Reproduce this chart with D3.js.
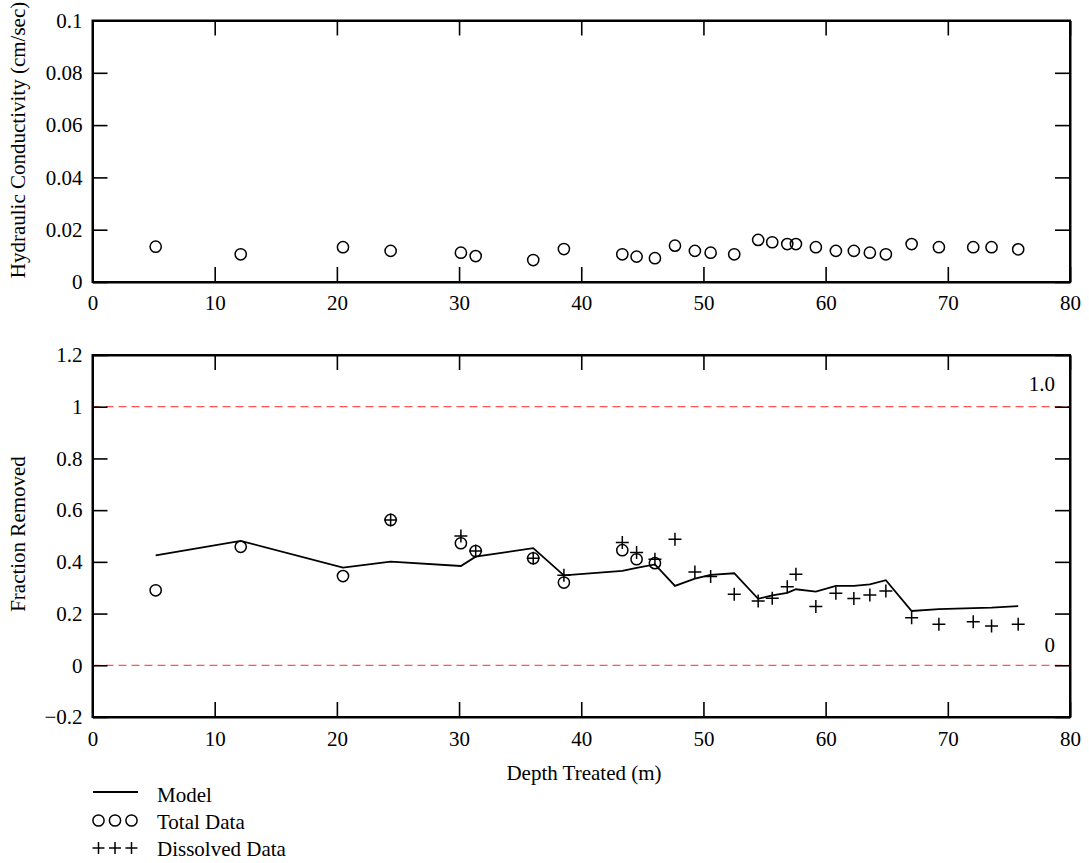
<!DOCTYPE html>
<html>
<head>
<meta charset="utf-8">
<script src="https://cdn.jsdelivr.net/npm/d3@7"></script>
<style>
  html, body { margin: 0; padding: 0; background: #fff; }
  svg { display: block; }
  text { font-family: "Liberation Serif", "Times New Roman", serif; fill: #000; }
</style>
</head>
<body>
<svg id="chart" width="1089" height="863"></svg>
<script>
// ---------- data ----------
const depth = [5.17, 12.13, 20.5, 24.4, 30.15, 31.36, 36.07, 38.58, 43.36, 44.53, 46.03,
  47.67, 49.3, 50.59, 52.52, 54.48, 55.63, 56.86, 57.57, 59.2, 60.84, 62.31, 63.62,
  64.93, 67.04, 69.27, 72.08, 73.58, 75.76];
const conductivity = [0.0135, 0.0106, 0.0133, 0.0119, 0.0112, 0.0099, 0.0084, 0.0126, 0.0106, 0.0097, 0.0091,
  0.0139, 0.0119, 0.0112, 0.0106, 0.0161, 0.0152, 0.0145, 0.0145, 0.0133, 0.0119, 0.0119, 0.0112,
  0.0106, 0.0145, 0.0133, 0.0133, 0.0133, 0.0125];
const model = [0.425, 0.481, 0.378, 0.401, 0.384, 0.42, 0.453, 0.348, 0.365, 0.377, 0.39,
  0.307, 0.335, 0.35, 0.356, 0.257, 0.27, 0.28, 0.294, 0.285, 0.307, 0.307, 0.313,
  0.329, 0.21, 0.217, 0.221, 0.223, 0.229];
const totalData = [0.29, 0.458, 0.345, 0.562, 0.472, 0.442, 0.414, 0.32, 0.445, 0.41, 0.395,
  null, null, null, null, null, null, null, null, null, null, null, null,
  null, null, null, null, null, null];
const dissolvedData = [null, null, null, 0.562, 0.50, 0.442, 0.414, 0.348, 0.475, 0.436, 0.41,
  0.487, 0.361, 0.343, 0.275, 0.249, 0.259, 0.304, 0.352, 0.227, 0.279, 0.258, 0.272,
  0.287, 0.184, 0.159, 0.168, 0.152, 0.159];
const xTicks = [0, 10, 20, 30, 40, 50, 60, 70, 80];
const kTicks = [0, 0.02, 0.04, 0.06, 0.08, 0.1];
const fTicks = [-0.2, 0, 0.2, 0.4, 0.6, 0.8, 1, 1.2];
const refLines = [1, 0];
const refLabels = ["1.0", "0"];
const legendLabels = ["Model", "Total Data", "Dissolved Data"];
const xTitle = "Depth Treated (m)";
const kTitle = "Hydraulic Conductivity (cm/sec)";
const fTitle = "Fraction Removed";

// ---------- layout ----------
const svg = d3.select("#chart");
const FS = 21;
const left = 92.5, right = 1070;
const x = d3.scaleLinear().domain([0, 80]).range([left, right]);
const yK = d3.scaleLinear().domain([0, 0.1]).range([282, 20.5]);
const yF = d3.scaleLinear().domain([-0.2, 1.2]).range([717, 355]);

const fmt = d => {
  const s = String(+d.toFixed(2));
  return s.startsWith("-") ? "\u2212" + s.slice(1) : s;
};

function frame(y, yTicks, padX) {
  const [y0, y1] = y.range();
  const g = svg.append("g");
  // bottom axis
  g.append("g").attr("transform", `translate(0,${y0})`)
    .call(d3.axisBottom(x).tickValues(xTicks).tickSize(-15).tickSizeOuter(0).tickPadding(padX).tickFormat(d3.format("d")));
  // top axis
  g.append("g").attr("transform", `translate(0,${y1})`)
    .call(d3.axisTop(x).tickValues(xTicks).tickSize(-15).tickSizeOuter(0).tickFormat(""));
  // left axis
  g.append("g").attr("transform", `translate(${left},0)`)
    .call(d3.axisLeft(y).tickValues(yTicks).tickSize(-15).tickSizeOuter(0).tickPadding(10).tickFormat(fmt));
  // right axis
  g.append("g").attr("transform", `translate(${right},0)`)
    .call(d3.axisRight(y).tickValues(yTicks).tickSize(-15).tickSizeOuter(0).tickFormat(""));
  g.selectAll(".tick line").attr("stroke", "#000").attr("stroke-width", 1.6);
  g.selectAll(".domain").attr("stroke", "#000").attr("stroke-width", 2);
  g.selectAll(".tick text").style("font-size", FS + "px").style("font-family", '"Liberation Serif", "Times New Roman", serif').attr("fill", "#000");
  g.append("rect").attr("x", left).attr("y", y1).attr("width", right - left).attr("height", y0 - y1)
    .attr("fill", "none").attr("stroke", "#000").attr("stroke-width", 2);
  return g;
}

// ---------- top panel ----------
frame(yK, kTicks, 13);
svg.append("g").selectAll("circle")
  .data(depth.map((d, i) => [d, conductivity[i]]))
  .join("circle")
  .attr("cx", d => x(d[0])).attr("cy", d => yK(d[1])).attr("r", 5.6)
  .attr("fill", "none").attr("stroke", "#000").attr("stroke-width", 1.5);

svg.append("text").attr("transform", "translate(25,140) rotate(-90)")
  .attr("text-anchor", "middle").style("font-size", FS + "px").text(kTitle);

// ---------- bottom panel ----------
// reference dashed lines
svg.append("g").selectAll("line").data(refLines).join("line")
  .attr("x1", left).attr("x2", right)
  .attr("y1", d => yF(d)).attr("y2", d => yF(d))
  .attr("stroke", "#ff2a2a").attr("stroke-width", 1).attr("stroke-dasharray", "8,5");
svg.append("g").selectAll("text").data(refLines).join("text")
  .attr("x", 1055).attr("y", (d, i) => yF(d) - (i === 0 ? 16 : 13))
  .attr("text-anchor", "end").style("font-size", FS + "px")
  .text((d, i) => refLabels[i]);

frame(yF, fTicks, 14);

// model line
svg.append("path")
  .datum(depth.map((d, i) => [d, model[i]]))
  .attr("fill", "none").attr("stroke", "#000").attr("stroke-width", 1.8)
  .attr("d", d3.line().x(d => x(d[0])).y(d => yF(d[1])));

// total data circles
svg.append("g").selectAll("circle")
  .data(depth.map((d, i) => [d, totalData[i]]).filter(d => d[1] !== null))
  .join("circle")
  .attr("cx", d => x(d[0])).attr("cy", d => yF(d[1])).attr("r", 5.6)
  .attr("fill", "none").attr("stroke", "#000").attr("stroke-width", 1.5);

// dissolved data pluses
const plusPath = (cx, cy, h) => `M${cx - h},${cy}H${cx + h}M${cx},${cy - h}V${cy + h}`;
svg.append("g").selectAll("path")
  .data(depth.map((d, i) => [d, dissolvedData[i]]).filter(d => d[1] !== null))
  .join("path")
  .attr("d", d => plusPath(x(d[0]), yF(d[1]), 6.5))
  .attr("fill", "none").attr("stroke", "#000").attr("stroke-width", 1.5);

svg.append("text").attr("transform", "translate(25,534) rotate(-90)")
  .attr("text-anchor", "middle").style("font-size", FS + "px").text(fTitle);
svg.append("text").attr("x", 584).attr("y", 780)
  .attr("text-anchor", "middle").style("font-size", FS + "px").text(xTitle);

// ---------- legend ----------
const lg = svg.append("g");
const legX = 93, legTextX = 157, legBase = [802, 829, 856];
lg.append("line").attr("x1", legX).attr("x2", 138).attr("y1", legBase[0] - 10).attr("y2", legBase[0] - 10)
  .attr("stroke", "#000").attr("stroke-width", 1.8);
[98.5, 115, 131.5].forEach(cx => {
  lg.append("circle").attr("cx", cx).attr("cy", legBase[1] - 8.5).attr("r", 5.6)
    .attr("fill", "none").attr("stroke", "#000").attr("stroke-width", 1.5);
  lg.append("path").attr("d", plusPath(cx, legBase[2] - 8, 6))
    .attr("fill", "none").attr("stroke", "#000").attr("stroke-width", 1.5);
});
lg.selectAll("text").data(legendLabels).join("text")
  .attr("x", legTextX).attr("y", (d, i) => legBase[i])
  .style("font-size", FS + "px").text(d => d);
</script>
</body>
</html>
